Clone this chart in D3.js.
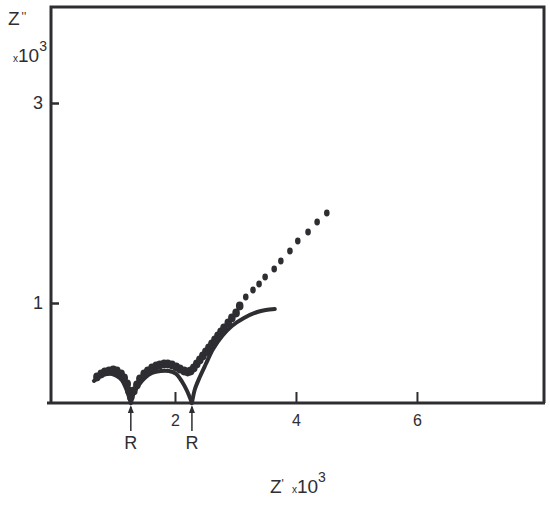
<!DOCTYPE html>
<html>
<head>
<meta charset="utf-8">
<script src="https://cdn.jsdelivr.net/npm/d3@7"></script>
<style>
  body { margin: 0; background: #fff; }
  text { font-family: "Liberation Sans Narrow", "Liberation Sans", Arial, sans-serif; fill: #2e2e32; }
</style>
</head>
<body>
<div id="main"></div>
<script>
// ticks
var xTicks = [2, 4, 6];
var yTicks = [1, 3];
// positions of the R markers on Z'
var rMarks = [1.27, 2.28];

// measured points (Z', -Z'') in units of 10^3 ohm
var dotsZre = [0.71, 0.78, 0.84, 0.91, 0.98, 1.04, 1.11, 1.16, 1.21, 1.24, 1.27,
               1.32, 1.37, 1.42, 1.49, 1.55, 1.62, 1.69, 1.75, 1.82, 1.88, 1.95, 2.02, 2.08, 2.15, 2.21,
               2.26, 2.31, 2.36, 2.41, 2.46, 2.51, 2.56, 2.61, 2.66, 2.71, 2.76, 2.81, 2.88, 2.94, 3.01, 3.07,
               3.17, 3.29, 3.39, 3.49, 3.64, 3.75, 3.90, 4.03, 4.20, 4.35, 4.51];
var dotsZim = [0.26, 0.29, 0.31, 0.32, 0.33, 0.32, 0.29, 0.25, 0.19, 0.12, 0.06,
               0.12, 0.18, 0.24, 0.29, 0.32, 0.35, 0.37, 0.38, 0.39, 0.39, 0.38, 0.36, 0.34, 0.32, 0.31,
               0.32, 0.35, 0.39, 0.43, 0.47, 0.51, 0.55, 0.59, 0.63, 0.67, 0.71, 0.75, 0.80, 0.85, 0.90, 0.97,
               1.06, 1.13, 1.19, 1.26, 1.34, 1.42, 1.52, 1.62, 1.71, 1.81, 1.90];

// fitted arcs (solid lines)
var arc1Zre = [0.66, 0.72, 0.80, 0.88, 0.96, 1.04, 1.12, 1.18, 1.23, 1.27];
var arc1Zim = [0.22, 0.25, 0.28, 0.29, 0.29, 0.27, 0.23, 0.16, 0.08, 0.00];
var arc2Zre = [1.27, 1.32, 1.40, 1.50, 1.62, 1.76, 1.90, 2.02, 2.12, 2.20, 2.28];
var arc2Zim = [0.00, 0.10, 0.18, 0.25, 0.30, 0.32, 0.32, 0.29, 0.21, 0.12, 0.00];
var arc3Zre = [2.28, 2.33, 2.41, 2.51, 2.63, 2.78, 2.94, 3.14, 3.36, 3.50, 3.65];
var arc3Zim = [0.00, 0.14, 0.26, 0.39, 0.54, 0.67, 0.77, 0.85, 0.91, 0.93, 0.94];

var W = 550, H = 506;
var ink = "#2e2e32";

var svg = d3.select("#main")
  .append("svg")
    .attr("width", W)
    .attr("height", H);

var x = d3.scaleLinear().domain([0, 8.1]).range([54, 544]);
var y = d3.scaleLinear().domain([0, 3.96]).range([403, 7]);

// frame
svg.append("path")
  .attr("d", "M" + 51 + "," + y(0) + "V" + y(3.96) + "H" + x(8.1) + "V" + y(0))
  .attr("fill", "none")
  .attr("stroke", ink)
  .attr("stroke-width", 3);
svg.append("line")
  .attr("x1", 47).attr("x2", x(8.1) + 1)
  .attr("y1", y(0)).attr("y2", y(0))
  .attr("stroke", ink)
  .attr("stroke-width", 3);

// x axis
var gx = svg.append("g")
  .attr("transform", "translate(0," + y(0) + ")")
  .call(d3.axisBottom(x).tickValues(xTicks).tickSize(-11).tickPadding(12).tickFormat(d3.format("d")));
gx.select(".domain").remove();
gx.selectAll(".tick line").attr("stroke", ink).attr("stroke-width", 2);
gx.selectAll(".tick text").style("font-size", "16px").attr("fill", ink);

// y axis
var gy = svg.append("g")
  .attr("transform", "translate(51,0)")
  .call(d3.axisLeft(y).tickValues(yTicks).tickSize(-8).tickPadding(8).tickFormat(d3.format("d")));
gy.select(".domain").remove();
gy.selectAll(".tick line").attr("stroke", ink).attr("stroke-width", 2.5);
gy.selectAll(".tick text").style("font-size", "18px").attr("fill", ink);

// fitted arcs
var line = d3.line()
  .x(function(d) { return x(d[0]); })
  .y(function(d) { return y(d[1]); })
  .curve(d3.curveCatmullRom);

[[arc1Zre, arc1Zim], [arc2Zre, arc2Zim], [arc3Zre, arc3Zim]].forEach(function(a) {
  svg.append("path")
    .datum(d3.zip(a[0], a[1]))
    .attr("d", line)
    .attr("fill", "none")
    .attr("stroke", ink)
    .attr("stroke-width", 4)
    .attr("stroke-linecap", "round");
});

// measured dots
svg.append("g")
  .selectAll("ellipse")
  .data(d3.zip(dotsZre, dotsZim))
  .enter()
  .append("ellipse")
    .attr("cx", function(d) { return x(d[0]); })
    .attr("cy", function(d) { return y(d[1]); })
    .attr("rx", function(d) { return d[0] < 3.1 ? 3.8 : 2.8; })
    .attr("ry", function(d) { return d[0] < 3.1 ? 4.4 : 3.4; })
    .attr("fill", ink);

// R arrows
var rg = svg.append("g").selectAll("g").data(rMarks).enter().append("g")
  .attr("transform", function(d) { return "translate(" + x(d) + "," + y(0) + ")"; });
rg.append("line")
  .attr("x1", 0).attr("x2", 0)
  .attr("y1", 4).attr("y2", 28)
  .attr("stroke", ink).attr("stroke-width", 1.5);
rg.append("path")
  .attr("d", "M0,2 L-3,10 L3,10 Z")
  .attr("fill", ink);
rg.append("text")
  .attr("y", 46)
  .attr("text-anchor", "middle")
  .style("font-size", "18px")
  .text("R");

// axis titles
var yt = svg.append("text").attr("x", 8).attr("y", 25).style("font-size", "19px");
yt.append("tspan").text("Z");
yt.append("tspan").attr("dx", 2).attr("dy", -4).style("font-size", "12px").text("''");
var ym = svg.append("text").attr("x", 13).attr("y", 62);
ym.append("tspan").style("font-size", "10px").text("x");
ym.append("tspan").style("font-size", "19px").text("10");
ym.append("tspan").attr("dy", -11).style("font-size", "14px").text("3");

var xt = svg.append("text").attr("x", 270).attr("y", 493);
xt.append("tspan").style("font-size", "19px").text("Z");
xt.append("tspan").attr("dy", -5).style("font-size", "12px").text("'");
xt.append("tspan").attr("dx", 8).attr("dy", 5).style("font-size", "10px").text("x");
xt.append("tspan").style("font-size", "19px").text("10");
xt.append("tspan").attr("dy", -11).style("font-size", "14px").text("3");
</script>
</body>
</html>
